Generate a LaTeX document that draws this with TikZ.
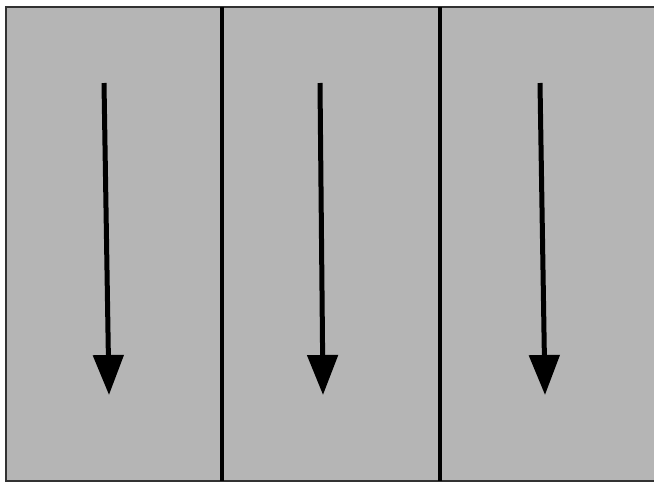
\documentclass[tikz,border=0pt]{standalone}
\usetikzlibrary{arrows.meta}
\definecolor{panelgray}{RGB}{181,181,181}
\definecolor{edgegray}{RGB}{50,50,50}
\tikzset{
	flow/.style={line width=5pt, -{Triangle[width=30pt,length=40pt]}},
	divider/.style={line width=3.5pt, black}
}
\begin{document}
\begin{tikzpicture}[x=1pt, y=-1pt]
		\useasboundingbox (0, 0) rectangle (654, 483);
		\fill[panelgray] (6, 7) rectangle (660, 481);
		\draw[edgegray, line width=2pt] (660, 7) -- (6, 7) -- (6, 481) -- (660, 481);
		\draw[divider] (222, 7) -- (222, 481);
		\draw[divider] (440, 7) -- (440, 481);
		% arrows, slightly slanted
		\foreach \i/\xa/\xb in {1/104/109, 2/320/323, 3/540/545} {
			\coordinate (top\i) at (\xa, 83);
			\coordinate (tip\i) at (\xb, 395);
			\draw[flow] (top\i) -- (tip\i);
		}
	\end{tikzpicture}
\end{document}
